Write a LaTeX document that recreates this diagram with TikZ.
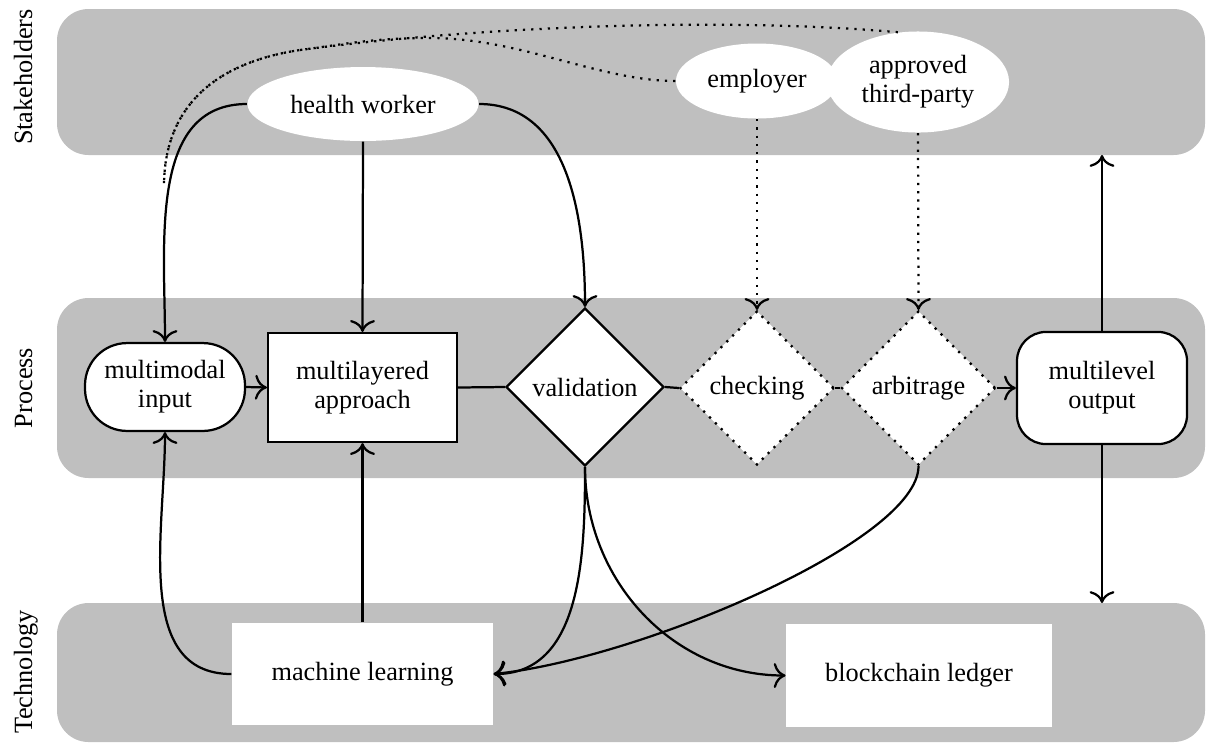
\documentclass[tikz,border=0pt]{standalone}
\usepackage{fontspec}
\setmainfont{Liberation Serif}
\usetikzlibrary{shapes.geometric,arrows.meta}
\begin{document}
\begin{tikzpicture}[x=0.38pt,y=0.38pt,
  lw/.style={line width=0.85pt},
  band/.style={fill=gray!50, rounded corners=12pt},
  lanelabel/.style={rotate=90, anchor=base},
  stake/.style={ellipse, fill=white, inner sep=0pt, align=center, font=\fontsize{10}{11}\selectfont},
  proc/.style={draw, lw, fill=white, align=center, inner sep=0pt, font=\fontsize{10}{11}\selectfont},
  dia/.style={diamond, draw, lw, fill=white, inner sep=0pt, aspect=1},
  dotpat/.style={dash pattern=on 0.85pt off 2.3pt},
  tech/.style={fill=white, inner sep=0pt, minimum height=38.8pt},
  conn/.style={lw, -{To[scale=1.3]}},
  plain/.style={lw},
  dconn/.style={lw, dotpat, -{To[scale=1.3]}},
  dline/.style={lw, dotpat},
]
\useasboundingbox (0,0) rectangle (1208,-744);
% lanes
\fill[band] (57,-9) rectangle (1205,-155);
\fill[band] (57,-298) rectangle (1205,-478);
\fill[band] (57,-603) rectangle (1205,-742);
\node[lanelabel] (ls) at (32,-77) {Stakeholders};
\node[lanelabel] (lp) at (32,-388) {Process};
\node[lanelabel] (lt) at (32,-672) {Technology};

% stakeholders
\node[stake, minimum width=87.8pt, minimum height=28.1pt] (hw) at (363,-104) {health worker};
\node[stake, minimum width=61.6pt, minimum height=28.5pt] (emp) at (757,-81) {employer};
\node[stake, minimum width=69.2pt, minimum height=38.4pt] (atp) at (918,-82) {approved\\third-party};

% process
\node[proc, rounded corners=16pt, minimum width=60.8pt, minimum height=33.4pt] (mi) at (165,-387) {multimodal\\input};
\node[proc, minimum width=71.8pt, minimum height=41.4pt] (ma) at (362.5,-387.5) {multilayered\\approach};
\node[dia, minimum size=60pt] (val) at (585,-387) {validation};
\node[dia, dotpat, minimum size=58.5pt] (chk) at (757,-388) {checking};
\node[dia, dotpat, minimum size=58.5pt] (arb) at (918.5,-388) {arbitrage};
\node[proc, rounded corners=11pt, minimum width=64.6pt, minimum height=42.6pt] (mo) at (1102,-388) {multilevel\\output};

% technology
\node[tech, minimum width=99.2pt] (ml) at (362.5,-674) {machine learning};
\node[tech, minimum width=101pt] (bc) at (919,-675.5) {blockchain ledger};

\coordinate (sbot) at (1102,-155);
\coordinate (ttop) at (1102,-603);
\coordinate (dend) at (164,-186);

% dotted curves from stakeholders
\draw[dline] (atp.112) .. controls (700,-15) and (450,-30) .. (300,-50) .. controls (200,-65) and (164,-120) .. (dend);
\draw[dline] (emp.west) .. controls (600,-81) and (520,-38) .. (430,-38) .. controls (370,-38) and (340,-45) .. (300,-50) .. controls (200,-65) and (164,-120) .. (dend);

% connectors
\draw[conn] (hw.west) to[out=180,in=90] (mi.north);
\draw[conn] (hw.south) -- (ma.north);
\draw[conn] (hw.east) to[out=0,in=90] (val.north);
\draw[dconn] (emp.south) -- (chk.north);
\draw[dconn] (atp.south) -- (arb.north);
\draw[conn] (mi.east) -- (ma.west);
\draw[plain] (ma.east) -- (val.west);
\draw[plain] (val.east) -- (chk.west);
\draw[plain] (chk.east) -- (arb.west);
\draw[conn] (arb.east) -- (mo.west);
\draw[conn] (mo.north) -- (sbot);
\draw[conn] (mo.south) -- (ttop);
\draw[conn] (ml.north) -- (ma.south);
\draw[conn] (ml.west) to[out=180,in=-90] (mi.south);
\draw[conn] (val.south) to[out=-90,in=0] (ml.east);
\draw[conn] (val.south) to[out=-90,in=180] (bc.west);
\draw[conn] (arb.south) .. controls +(0,-75) and +(145,15) .. (ml.east);
\end{tikzpicture}
\end{document}
